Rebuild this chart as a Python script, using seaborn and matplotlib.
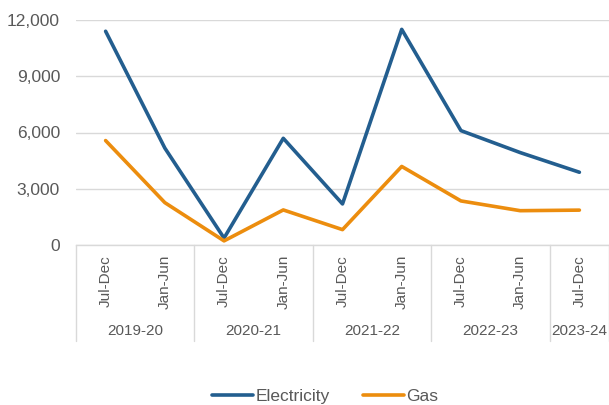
"""
plot.py — 半年度用电/用气折线图 (Seaborn)
"""

import pandas as pd
import matplotlib
matplotlib.use("Agg")
import matplotlib.pyplot as plt
import matplotlib.transforms as mtransforms
from matplotlib.lines import Line2D
import seaborn as sns

# ==================== 数据 ====================

years = ["2019-20", "2020-21", "2021-22", "2022-23", "2023-24"]
halves = ["Jul-Dec", "Jan-Jun", "Jul-Dec", "Jan-Jun", "Jul-Dec",
          "Jan-Jun", "Jul-Dec", "Jan-Jun", "Jul-Dec"]
year_of_half = ["2019-20", "2019-20", "2020-21", "2020-21", "2021-22",
                "2021-22", "2022-23", "2022-23", "2023-24"]
electricity = [11400, 5170, 370, 5690, 2190, 11500, 6100, 4930, 3880]
gas = [5570, 2260, 220, 1870, 820, 4190, 2350, 1830, 1860]

series_names = ["Electricity", "Gas"]
colors = {"Electricity": "#235E8F", "Gas": "#EC8D0E"}
y_ticks = [0, 3000, 6000, 9000, 12000]

# ==================== 绘图 ====================

sns.set_theme(style="white")
plt.rcParams["font.family"] = ["Liberation Sans", "DejaVu Sans"]
TEXT_COLOR = "#595959"
GRID_COLOR = "#D9D9D9"

n = len(halves)
df = pd.DataFrame({
    "idx": list(range(n)) * 2,
    "value": electricity + gas,
    "series": ["Electricity"] * n + ["Gas"] * n,
})

W, H = 609, 405
fig = plt.figure(figsize=(W / 100, H / 100), dpi=100)
# 坐标区: 左 76px, 右 609px, 顶 20px, 底 245px
ax = fig.add_axes([76 / W, (H - 245) / H, (W - 76) / W, 225 / H])

sns.lineplot(data=df, x="idx", y="value", hue="series", palette=colors,
             hue_order=series_names, linewidth=2.6, ax=ax, legend=False)

ax.set_xlim(-0.5, n - 0.5)
ax.set_ylim(0, 12000)
ax.set_yticks(y_ticks)
ax.set_yticklabels([f"{v:,}" for v in y_ticks], fontsize=12.5, color=TEXT_COLOR)
ax.tick_params(axis="y", length=0, pad=11.5)
ax.set_xticks([])
ax.set_xlabel("")
ax.set_ylabel("")
ax.yaxis.grid(True, color=GRID_COLOR, linewidth=1)
for s in ["top", "right", "left"]:
    ax.spines[s].set_visible(False)
ax.spines["bottom"].set_color(GRID_COLOR)
ax.spines["bottom"].set_linewidth(1)

# 多级分类轴
trans = mtransforms.blended_transform_factory(ax.transData, ax.transAxes)
for i, lab in enumerate(halves):
    ax.text(i, -0.044, lab, rotation=90, ha="center", va="top",
            fontsize=11, color=TEXT_COLOR, transform=trans)

bounds = [-0.5]
for i in range(1, n):
    if year_of_half[i] != year_of_half[i - 1]:
        bounds.append(i - 0.5)
bounds.append(n - 0.5)
for b in bounds:
    ax.plot([b, b], [0, -0.427], color=GRID_COLOR, linewidth=1,
            transform=trans, clip_on=False)

for y in years:
    pos = [i for i, g in enumerate(year_of_half) if g == y]
    ax.text(sum(pos) / len(pos), -0.382, y, ha="center", va="center",
            fontsize=11, color=TEXT_COLOR, transform=trans)

# 图例
handles = [Line2D([], [], color=colors[s], linewidth=2.6) for s in series_names]
fig.legend(handles, series_names, loc="center", bbox_to_anchor=(0.534, 9 / H),
           ncol=2, frameon=False, fontsize=12.5, handlelength=2.35,
           handletextpad=0.15, columnspacing=1.9, labelcolor=TEXT_COLOR)

fig.savefig("out.png", dpi=100)
plt.close(fig)
